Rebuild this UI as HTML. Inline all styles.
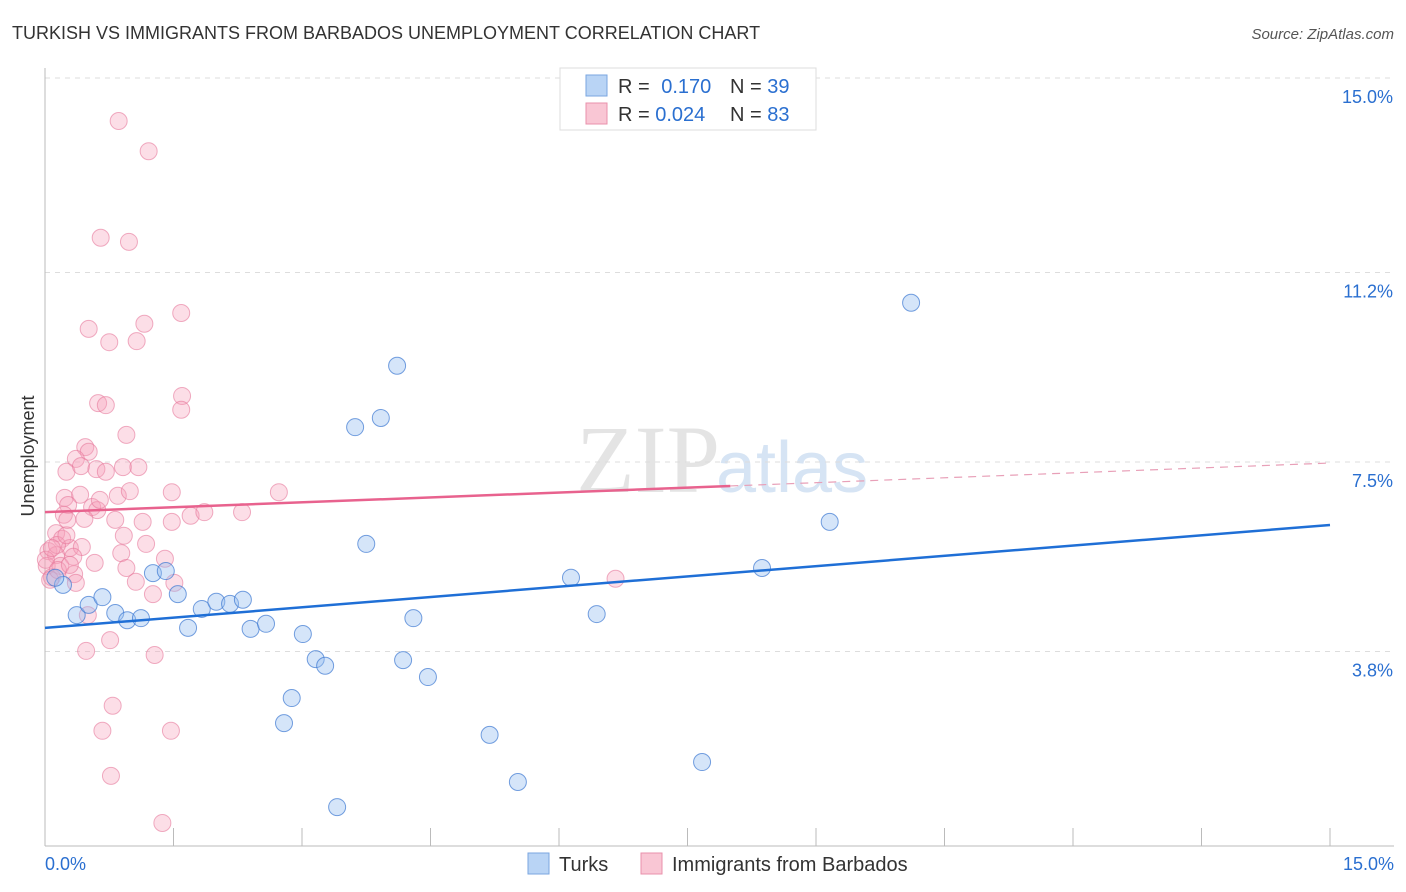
<!DOCTYPE html>
<html><head><meta charset="utf-8"><style>
body{margin:0;background:#fff;font-family:"Liberation Sans",sans-serif;}
svg{display:block}
</style></head><body>
<svg id="chart" width="1406" height="892" xmlns="http://www.w3.org/2000/svg">
<text x="12" y="39" font-size="18" fill="#333">TURKISH VS IMMIGRANTS FROM BARBADOS UNEMPLOYMENT CORRELATION CHART</text>
<text x="1394" y="39" font-size="15" fill="#555" font-style="italic" text-anchor="end">Source: ZipAtlas.com</text>
<text x="720" y="492" font-size="96" fill="#e4e4e4" text-anchor="end" font-family="Liberation Serif,serif">ZIP</text>
<text x="716" y="492" font-size="72" fill="#d6e4f4">atlas</text>
<text transform="translate(34,456) rotate(-90)" font-size="18" fill="#333" text-anchor="middle">Unemployment</text>
<g id="grid"></g><g id="pts"></g><g id="lines"></g>
<g>
<rect x="560" y="68" width="256" height="62" fill="#fff" stroke="#ddd"/>
<rect x="586" y="75" width="21" height="21" fill="#b9d4f5" stroke="#7aa6e0"/>
<rect x="586" y="103" width="21" height="21" fill="#f9c6d4" stroke="#e990ab"/>
<text x="618" y="93" font-size="20" fill="#333">R = <tspan fill="#2a6fd0" dx="6">0.170</tspan></text>
<text x="730" y="93" font-size="20" fill="#333">N = <tspan fill="#2a6fd0">39</tspan></text>
<text x="618" y="121" font-size="20" fill="#333">R = <tspan fill="#2a6fd0">0.024</tspan></text>
<text x="730" y="121" font-size="20" fill="#333">N = <tspan fill="#2a6fd0">83</tspan></text>
</g>
<g>
<rect x="528" y="853" width="21" height="21" fill="#b9d4f5" stroke="#7aa6e0"/>
<text x="559" y="871" font-size="20" fill="#333">Turks</text>
<rect x="641" y="853" width="21" height="21" fill="#f9c6d4" stroke="#e990ab"/>
<text x="672" y="871" font-size="20" fill="#333">Immigrants from Barbados</text>
</g>
</svg>
<script>
const yTicks=[3.8,7.5,11.2,15.0];
const yTickLabels=["3.8%","7.5%","11.2%","15.0%"];
const xTickLabels=["0.0%","15.0%"];
const turksX=[0.21,0.37,0.51,0.67,0.82,0.96,1.12,1.26,1.41,1.55,1.67,1.83,2.00,2.16,2.31,2.40,2.58,2.79,2.88,3.01,3.16,3.27,3.41,3.62,3.75,3.92,4.11,4.18,4.30,4.47,5.19,5.52,6.14,6.44,7.67,8.37,9.16,10.11,0.12];
const turksY=[5.10,4.51,4.71,4.86,4.55,4.41,4.45,5.33,5.37,4.92,4.26,4.63,4.77,4.73,4.81,4.24,4.34,2.40,2.89,4.14,3.65,3.52,0.76,8.18,5.90,8.36,9.38,3.63,4.45,3.30,2.17,1.25,5.24,4.53,1.64,5.43,6.33,10.61,5.24];
const barbX=[0.86,1.21,0.65,0.98,1.59,0.51,1.16,0.75,1.07,0.62,0.71,1.60,1.59,0.95,0.47,0.51,0.36,0.25,0.42,0.60,0.71,0.91,1.09,0.23,0.41,0.85,0.99,1.48,2.73,0.27,0.55,0.61,0.22,0.46,1.70,1.86,2.30,1.14,1.48,0.92,0.13,0.20,0.29,0.43,0.04,0.89,1.18,0.13,1.40,0.33,0.58,0.95,0.02,0.18,0.34,0.08,1.06,1.51,1.26,0.36,0.50,6.66,0.76,0.48,1.28,0.79,0.67,1.47,0.77,1.37,0.06,0.14,0.01,0.25,0.82,0.15,0.29,0.26,0.08,0.64];
const barbY=[14.16,13.57,11.88,11.80,10.41,10.10,10.20,9.84,9.86,8.65,8.61,8.79,8.52,8.03,7.79,7.70,7.56,7.31,7.42,7.36,7.31,7.40,7.40,6.80,6.86,6.84,6.93,6.91,6.91,6.66,6.62,6.56,6.47,6.39,6.45,6.52,6.52,6.33,6.33,6.06,6.11,6.00,5.82,5.84,5.76,5.72,5.90,5.68,5.61,5.65,5.53,5.43,5.47,5.47,5.31,5.25,5.16,5.14,4.92,5.14,4.51,5.22,4.02,3.81,3.73,2.74,2.25,2.25,1.37,0.45,5.20,5.88,5.59,6.07,6.37,5.39,5.49,6.37,5.82,6.76];
const turksTrend=[4.26,6.27];
const barbTrend=[6.52,7.48];
const solidEnd=8.0;
const NS="http://www.w3.org/2000/svg";
const X=v=>45+v/15*1285, Y=v=>846-v/15*768;
function mk(t,a,p){const e=document.createElementNS(NS,t);for(const k in a)e.setAttribute(k,a[k]);p.appendChild(e);return e;}
const g=document.getElementById('grid');
yTicks.forEach((t,i)=>{
 const l=mk('line',{x1:45,x2:1394,y1:Y(t),y2:Y(t),stroke:'#ddd','stroke-dasharray':'5,5'},g);
 
 
 const tx=mk('text',{x:1393,y:Y(t)+25,'font-size':18,fill:'#2a6fd0','text-anchor':'end'},g);
 tx.textContent=yTickLabels[i];
 
 
});
const ax=mk('line',{x1:45,x2:45,y1:68,y2:846,stroke:'#bbb'},g);


const bx=mk('line',{x1:45,x2:1394,y1:846,y2:846,stroke:'#bbb'},g);


for(let i=1;i<=10;i++){const xt=mk('line',{x1:X(i*1.5),x2:X(i*1.5),y1:828,y2:846,stroke:'#bbb'},g);
 
 }
[[0,'start',45],[15,'end',1394]].forEach((d,i)=>{const t=mk('text',{x:d[2],y:870,'font-size':18,fill:'#2a6fd0','text-anchor':d[1]},g);t.textContent=xTickLabels[i];
 
 });
const p=document.getElementById('pts');
barbX.forEach((v,i)=>{const c=mk('circle',{cx:X(v),cy:Y(barbY[i]),r:8.5,fill:'rgba(245,160,185,0.35)',stroke:'rgba(230,120,155,0.6)','stroke-width':1},p);
 
 });
turksX.forEach((v,i)=>{const c=mk('circle',{cx:X(v),cy:Y(turksY[i]),r:8.5,fill:'rgba(150,190,240,0.4)',stroke:'rgba(60,120,210,0.7)','stroke-width':1},p);
 
 });
const L=document.getElementById('lines');
const bt=v=>barbTrend[0]+(barbTrend[1]-barbTrend[0])*v/15;
const l1=mk('line',{x1:X(0),y1:Y(turksTrend[0]),x2:X(15),y2:Y(turksTrend[1]),stroke:'#1f6fd6','stroke-width':2.5},L);


const l2=mk('line',{x1:X(0),y1:Y(bt(0)),x2:X(solidEnd),y2:Y(bt(solidEnd)),stroke:'#e8628e','stroke-width':2.5},L);


const l3=mk('line',{x1:X(solidEnd),y1:Y(bt(solidEnd)),x2:X(15),y2:Y(bt(15)),stroke:'#e8a0b8','stroke-width':1.2,'stroke-dasharray':'8,6'},L);


</script>
</body></html>
